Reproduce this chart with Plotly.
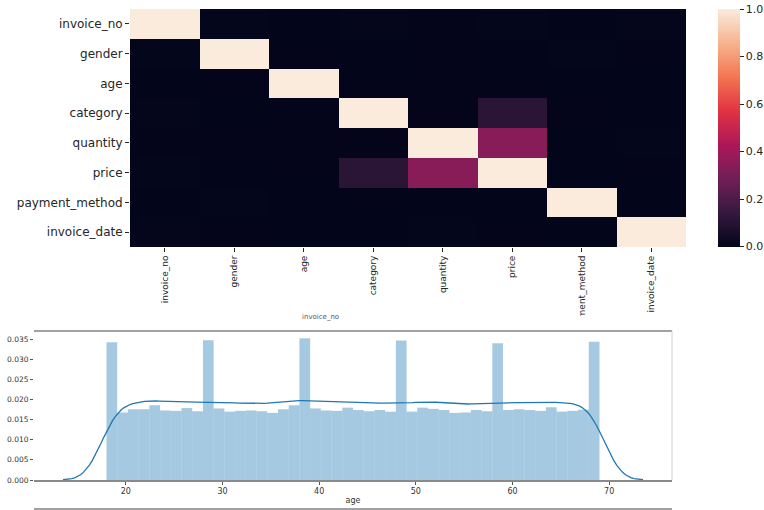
import numpy as np
import plotly.graph_objects as go

W, H = 764, 510

# ---------------- data ----------------
labels = ["invoice_no", "gender", "age", "category", "quantity",
          "price", "payment_method", "invoice_date"]

corr_rows = [
    [1.000, 0.002, -0.001, 0.003, 0.001, 0.002, -0.002, 0.004],
    [0.002, 1.000, 0.001, -0.001, 0.000, -0.001, 0.002, 0.001],
    [-0.001, 0.001, 1.000, 0.001, 0.001, 0.001, -0.001, -0.002],
    [0.003, -0.001, 0.001, 1.000, 0.001, 0.110, 0.001, -0.002],
    [0.001, 0.000, 0.001, 0.001, 1.000, 0.340, -0.001, 0.002],
    [0.002, -0.001, 0.001, 0.110, 0.340, 1.000, -0.001, 0.001],
    [-0.002, 0.002, -0.001, 0.001, -0.001, -0.001, 1.000, -0.002],
    [0.004, 0.001, -0.002, -0.002, 0.002, 0.001, -0.002, 1.000],
]
cbar_ticks = [0.0, 0.2, 0.4, 0.6, 0.8, 1.0]

ages = list(range(18, 70))
age_counts = [
    1891, 1891, 1852, 1941, 1941, 2051, 1908, 1897, 1974, 1886,   # 18-27
    1918, 1918, 1963, 1875, 1897, 1908, 1886, 1841, 1941, 2051,   # 28-37
    1946, 1946, 1963, 1908, 1897, 1985, 1919, 1886, 1919, 1875,   # 38-47
    1913, 1913, 1875, 1985, 1952, 1919, 1841, 1852, 1919, 1886,   # 48-57
    1875, 1875, 1919, 1941, 1919, 1897, 1996, 1875, 1897, 1930,   # 58-67
    1897, 1897,                                                   # 68-69
]
n_bins = 46
hist_yticks = [0.000, 0.005, 0.010, 0.015, 0.020, 0.025, 0.030, 0.035]
hist_xticks = [20, 30, 40, 50, 60, 70]

# ---------------- derived statistics ----------------
a = np.array(ages, dtype=float)
c = np.array(age_counts, dtype=float)
dens, edges = np.histogram(a, bins=n_bins, weights=c, density=True)
centers = (edges[:-1] + edges[1:]) / 2
bw_w = edges[1] - edges[0]

n = c.sum()
mean = (a * c).sum() / n
std = np.sqrt((c * (a - mean) ** 2).sum() / n)
bw = std * n ** (-1 / 5)
grid = np.linspace(a.min() - 3 * bw, a.max() + 3 * bw, 200)
kde = (c[None, :] * np.exp(-0.5 * ((grid[:, None] - a[None, :]) / bw) ** 2)).sum(1) / (n * bw * np.sqrt(2 * np.pi))

z = np.array(corr_rows)

rocket = [
    [0.0, "#03051A"], [1 / 7, "#35193E"], [2 / 7, "#701F57"], [3 / 7, "#AD1759"],
    [4 / 7, "#E13342"], [5 / 7, "#F37651"], [6 / 7, "#F6B48F"], [1.0, "#FAEBDD"],
]

def px_x(p):
    return p / W

def px_y(p):
    return (H - p) / H

FONT = "DejaVu Sans"
TXT = "#262626"

fig = go.Figure()
fig.add_trace(go.Heatmap(
    z=z, x=labels, y=labels, colorscale=rocket,
    zmin=float(z.min()), zmax=1.0, xaxis="x", yaxis="y",
    colorbar=dict(
        x=px_x(718), xanchor="left", xpad=0,
        y=px_y(9), yanchor="top", ypad=0,
        len=(247 - 9) / H, lenmode="fraction", thickness=22,
        outlinewidth=0, ticks="outside", ticklen=4, tickcolor=TXT,
        tickvals=cbar_ticks, ticktext=[f"{v:.1f}" for v in cbar_ticks],
        tickfont=dict(family=FONT, size=11, color=TXT),
    ),
))

fig.add_trace(go.Bar(
    x=centers, y=dens, width=bw_w, xaxis="x2", yaxis="y2",
    marker=dict(color="rgba(31,119,180,0.4)", line=dict(width=0)),
    showlegend=False,
))
fig.add_trace(go.Scatter(
    x=grid, y=kde, mode="lines", xaxis="x2", yaxis="y2",
    line=dict(color="#1f77b4", width=1.3), showlegend=False,
))

fig.update_layout(
    width=W, height=H, margin=dict(l=0, r=0, t=0, b=0, autoexpand=False),
    paper_bgcolor="white", plot_bgcolor="white", showlegend=False,
    xaxis=dict(domain=[px_x(130), px_x(686)], anchor="y", type="category",
               showgrid=False, zeroline=False, showline=False, automargin=False,
               ticks="outside", ticklen=4, tickcolor=TXT, tickangle=-90,
               tickfont=dict(family=FONT, size=9, color=TXT)),
    yaxis=dict(domain=[px_y(247), px_y(9)], anchor="x", type="category",
               autorange="reversed", showgrid=False, zeroline=False, automargin=False,
               showline=False, ticks="outside", ticklen=4, tickcolor=TXT,
               tickfont=dict(family=FONT, size=12, color=TXT)),
    xaxis2=dict(domain=[px_x(34), px_x(672)], anchor="y2", range=[10.5, 76.5],
                showgrid=False, zeroline=False, showline=True, automargin=False,
                linecolor="#8a8a8a", linewidth=1.5,
                ticks="outside", ticklen=3, tickcolor="#555",
                tickvals=hist_xticks,
                tickfont=dict(family=FONT, size=8, color="#333"),
                title=dict(text="age", standoff=2,
                           font=dict(family=FONT, size=8, color="#333"))),
    yaxis2=dict(domain=[px_y(480), px_y(331)], anchor="x2", range=[0, 0.037],
                showgrid=False, zeroline=False, showline=False, automargin=False,
                ticks="outside", ticklen=3, tickcolor="#555",
                tickvals=hist_yticks, tickformat=".3f",
                tickfont=dict(family=FONT, size=7.5, color="#333")),
    shapes=[
        dict(type="rect", xref="paper", yref="paper", layer="above",
             x0=px_x(574), x1=px_x(588), y0=px_y(336), y1=px_y(315.5),
             fillcolor="white", line=dict(width=0)),
        dict(type="line", xref="paper", yref="paper", layer="above",
             x0=px_x(34), x1=px_x(672), y0=px_y(331), y1=px_y(331),
             line=dict(color="#444", width=1.2)),
        dict(type="line", xref="paper", yref="paper", layer="above",
             x0=px_x(672), x1=px_x(672), y0=px_y(480), y1=px_y(331),
             line=dict(color="#d0d0d0", width=1)),
        dict(type="line", xref="paper", yref="paper", layer="above",
             x0=px_x(34), x1=px_x(672), y0=px_y(509), y1=px_y(509),
             line=dict(color="#444", width=1.2)),
    ],
    annotations=[
        dict(text="invoice_no", xref="paper", yref="paper",
             x=px_x(320), y=px_y(317), showarrow=False,
             font=dict(family=FONT, size=7, color="#555")),
    ],
)

fig.write_html(
    "out.html",
    config={"displayModeBar": False},
    post_script="document.body.style.margin='0px';document.body.style.overflow='hidden';",
)
